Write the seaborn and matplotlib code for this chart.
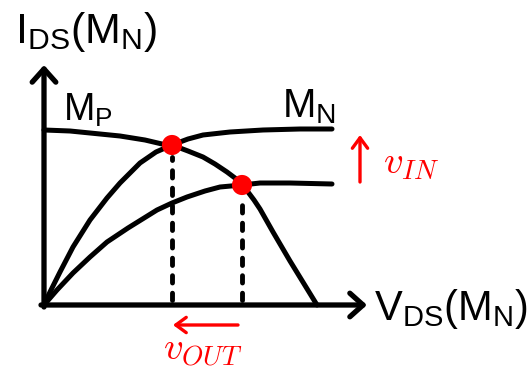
import matplotlib
matplotlib.use("Agg")
import matplotlib.pyplot as plt
import seaborn as sns

# Characteristic curves of the inverter load line (V_DS on x, I_DS on y)
mp_x = [0, 26, 46, 76, 101, 118, 128, 144, 159, 171, 183, 191, 198, 204,
        210, 216, 229, 246, 273]
mp_y = [175, 174, 172, 169, 165, 161, 160, 154, 148, 141, 133, 127, 120,
        113, 105, 96, 73, 44, 0]

mn_high_x = [0, 6, 16, 29, 46, 63, 76, 96, 112, 128, 144, 159, 186, 219,
             256, 288]
mn_high_y = [0, 13, 33, 58, 85, 107, 122, 142, 153, 160, 166, 170, 173,
             175, 176, 176]

mn_low_x = [0, 13, 29, 46, 63, 84, 113, 128, 143, 161, 176, 198, 216, 246,
            288]
mn_low_y = [0, 15, 32, 48, 63, 77, 95, 102, 108, 114, 118, 120, 122, 122,
            121]

# Operating points (intersections of the M_P and M_N curves)
op_x = [128, 198]
op_y = [160, 120]

sns.set_theme(style="white")
plt.rcParams["mathtext.fontset"] = "custom"
plt.rcParams["mathtext.rm"] = "Liberation Sans"
plt.rcParams["mathtext.it"] = "Liberation Sans:italic"
plt.rcParams["font.family"] = ["Liberation Sans", "DejaVu Sans"]

fig = plt.figure(figsize=(5.28, 3.69), dpi=100)
ax = fig.add_axes([0, 0, 1, 1])
ax.set_xlim(-44, 484)
ax.set_ylim(-64, 305)
ax.axis("off")

curve_lw = 3.6
for xs, ys in [(mp_x, mp_y), (mn_high_x, mn_high_y), (mn_low_x, mn_low_y)]:
    sns.lineplot(x=xs, y=ys, sort=False, estimator=None, color="black",
                 lw=curve_lw, ax=ax, solid_capstyle="round",
                 solid_joinstyle="round", zorder=3)

# Dashed drops from the operating points to the V_DS axis
for px, py in zip(op_x, op_y):
    ax.plot([px, px], [5, py - 12], color="black", lw=3.5,
            linestyle=(0, (1.5, 2.1)), dash_capstyle="round", zorder=2)

sns.scatterplot(x=op_x, y=op_y, color="#ff0000", s=210, edgecolor="none",
                ax=ax, zorder=5)

# Axes with open arrowheads
axis_arrow = dict(arrowstyle="->,head_length=0.95,head_width=0.85",
                  lw=3.8, color="black", shrinkA=0, shrinkB=0,
                  mutation_scale=10)
ax.annotate("", xy=(323, 0), xytext=(-3, 0), arrowprops=axis_arrow, zorder=4)
ax.annotate("", xy=(0, 240), xytext=(0, -2), arrowprops=axis_arrow, zorder=4)

# Red direction arrows
red_arrow = dict(arrowstyle="->,head_length=0.75,head_width=0.55",
                 lw=2.4, color="#ff0000", shrinkA=0, shrinkB=0,
                 mutation_scale=10)
ax.annotate("", xy=(316, 170), xytext=(316, 123), arrowprops=red_arrow)
ax.annotate("", xy=(129, -20), xytext=(194, -20), arrowprops=red_arrow)

# Labels
ax.text(-29, 262, r"$\mathrm{I_{DS}(M_N)}$", fontsize=31, ha="left",
        va="baseline", color="black")
ax.text(19, 184, r"$\mathrm{M_P}$", fontsize=27, ha="left",
        va="baseline", color="black")
ax.text(238, 188, r"$\mathrm{M_N}$", fontsize=29, ha="left",
        va="baseline", color="black")
ax.text(330, -15, r"$\mathrm{V_{DS}(M_N)}$", fontsize=30, ha="left",
        va="baseline", color="black")
ax.text(339, 132, r"$v_{IN}$", fontsize=28, ha="left", va="baseline",
        color="#ff0000", math_fontfamily="cm")
ax.text(119, -55, r"$v_{OUT}$", fontsize=28, ha="left", va="baseline",
        color="#ff0000", math_fontfamily="cm")

fig.savefig("out.png", dpi=100)
